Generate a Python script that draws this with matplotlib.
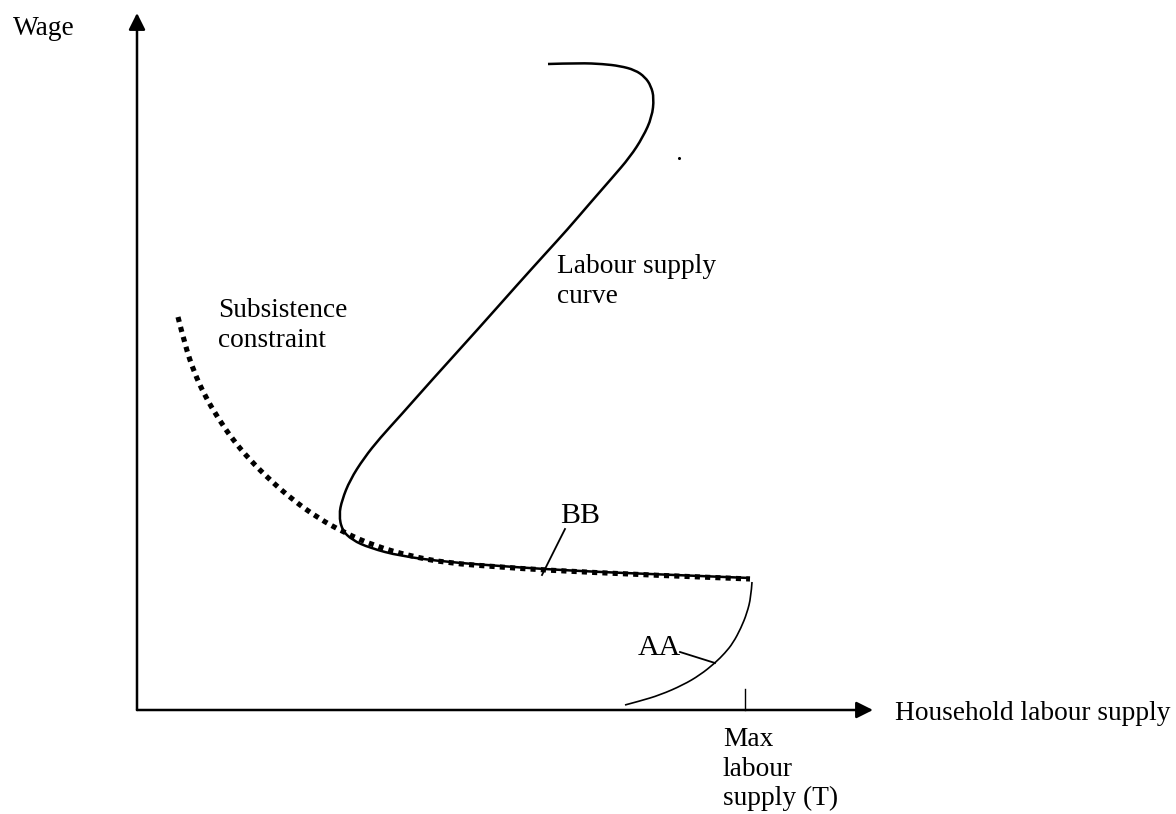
import matplotlib
matplotlib.use("Agg")
import matplotlib.pyplot as plt
from matplotlib.path import Path
from matplotlib.patches import PathPatch

# ---- data (diagram units; origin at the axes' intersection) ----
labour_x = [411, 443, 466, 483, 498, 508, 514, 517, 515, 506, 493, 475, 454, 430,
            409, 381, 342, 294, 264, 243, 227, 213, 205, 202, 205, 215, 233, 263,
            310, 363, 406, 463, 513, 563, 613]
labour_y = [646, 647, 646, 644, 640, 633, 624, 612, 593, 573, 553, 532, 508, 480,
            457, 426, 382, 329, 295, 272, 252, 230, 210, 195, 180, 170, 162, 154,
            148, 144, 141, 138, 136, 134, 132]

subsist_x = [41, 48, 57, 68, 81, 96, 113, 133, 156, 181, 208, 238, 273, 310,
             363, 406, 510, 613]
subsist_y = [393, 365, 338, 314, 292, 270, 250, 230, 210, 192, 177, 164, 154, 147,
             143, 140, 135, 131]

aa_x = [615, 614, 610, 604, 596, 588, 578, 563, 546, 523, 503, 488]
aa_y = [128, 113, 97, 82, 67, 57, 47, 35, 25, 15, 9, 5]

max_labour_T = 608
x_axis_end = 736
y_axis_end = 697

x_label = "Household labour supply"
y_label = "Wage"
tick_label_lines = ["Max", "labour", "supply (T)"]
labour_label_lines = ["Labour supply", "curve"]
subsist_label_lines = ["Subsistence", "constraint"]

FONT = "Liberation Serif"


def smooth_path(xs, ys):
    pts = list(zip(xs, ys))
    n = len(pts)
    verts = [pts[0]]
    codes = [Path.MOVETO]
    for i in range(1, n - 2):
        mid = ((pts[i][0] + pts[i + 1][0]) / 2, (pts[i][1] + pts[i + 1][1]) / 2)
        verts += [pts[i], mid]
        codes += [Path.CURVE3, Path.CURVE3]
    verts += [pts[n - 2], pts[n - 1]]
    codes += [Path.CURVE3, Path.CURVE3]
    return Path(verts, codes)


fig = plt.figure(figsize=(11.76, 8.14), dpi=100)
ax = fig.add_axes([0, 0, 1, 1])
ax.set_xlim(-137, 1039)
ax.set_ylim(-104, 710)
ax.axis("off")

# axes with arrows
arrow = dict(arrowstyle="-|>,head_length=0.5,head_width=0.25", lw=1.8,
             color="black", mutation_scale=20, shrinkA=0, shrinkB=0)
ax.annotate("", xy=(0, y_axis_end), xytext=(0, 0), arrowprops=arrow)
ax.annotate("", xy=(x_axis_end, 0), xytext=(0, 0), arrowprops=arrow)

# max labour tick
ax.plot([max_labour_T, max_labour_T], [0, 21], color="black", lw=1.0)

# subsistence constraint (dotted)
ax.add_patch(PathPatch(smooth_path(subsist_x, subsist_y), fill=False,
                       edgecolor="black", lw=3.7, linestyle=(0, (1, 1)),
                       capstyle="butt"))

# labour supply curve
ax.add_patch(PathPatch(smooth_path(labour_x, labour_y), fill=False,
                       edgecolor="black", lw=1.8, capstyle="butt"))

# AA curve
ax.add_patch(PathPatch(smooth_path(aa_x, aa_y), fill=False,
                       edgecolor="black", lw=1.2, capstyle="butt"))

# leader lines
ax.plot([428, 405], [181, 135], color="black", lw=1.3)
ax.plot([543, 578], [58, 47], color="black", lw=1.3)

# stray dot
ax.plot([542], [552], marker="o", markersize=1.2, color="black")

fs = 19.7
ax.text(-124, 675, y_label, fontsize=fs, family=FONT, ha="left", va="baseline")
ax.text(758, -10, x_label, fontsize=fs, family=FONT, ha="left", va="baseline")
for line, yb in zip(tick_label_lines, [-36, -66, -95]):
    ax.text(586, yb, line, fontsize=fs, family=FONT, ha="left", va="baseline")
for line, yb in zip(labour_label_lines, [437, 407]):
    ax.text(420, yb, line, fontsize=fs, family=FONT, ha="left", va="baseline")
for line, yb in zip(subsist_label_lines, [393, 363]):
    ax.text(81, yb, line, fontsize=fs, family=FONT, ha="left", va="baseline")
ax.text(423, 187, "BB", fontsize=21.5, family=FONT, ha="left", va="baseline")
ax.text(501, 55, "AA", fontsize=21.5, family=FONT, ha="left", va="baseline")

fig.savefig("out.png", dpi=100)
